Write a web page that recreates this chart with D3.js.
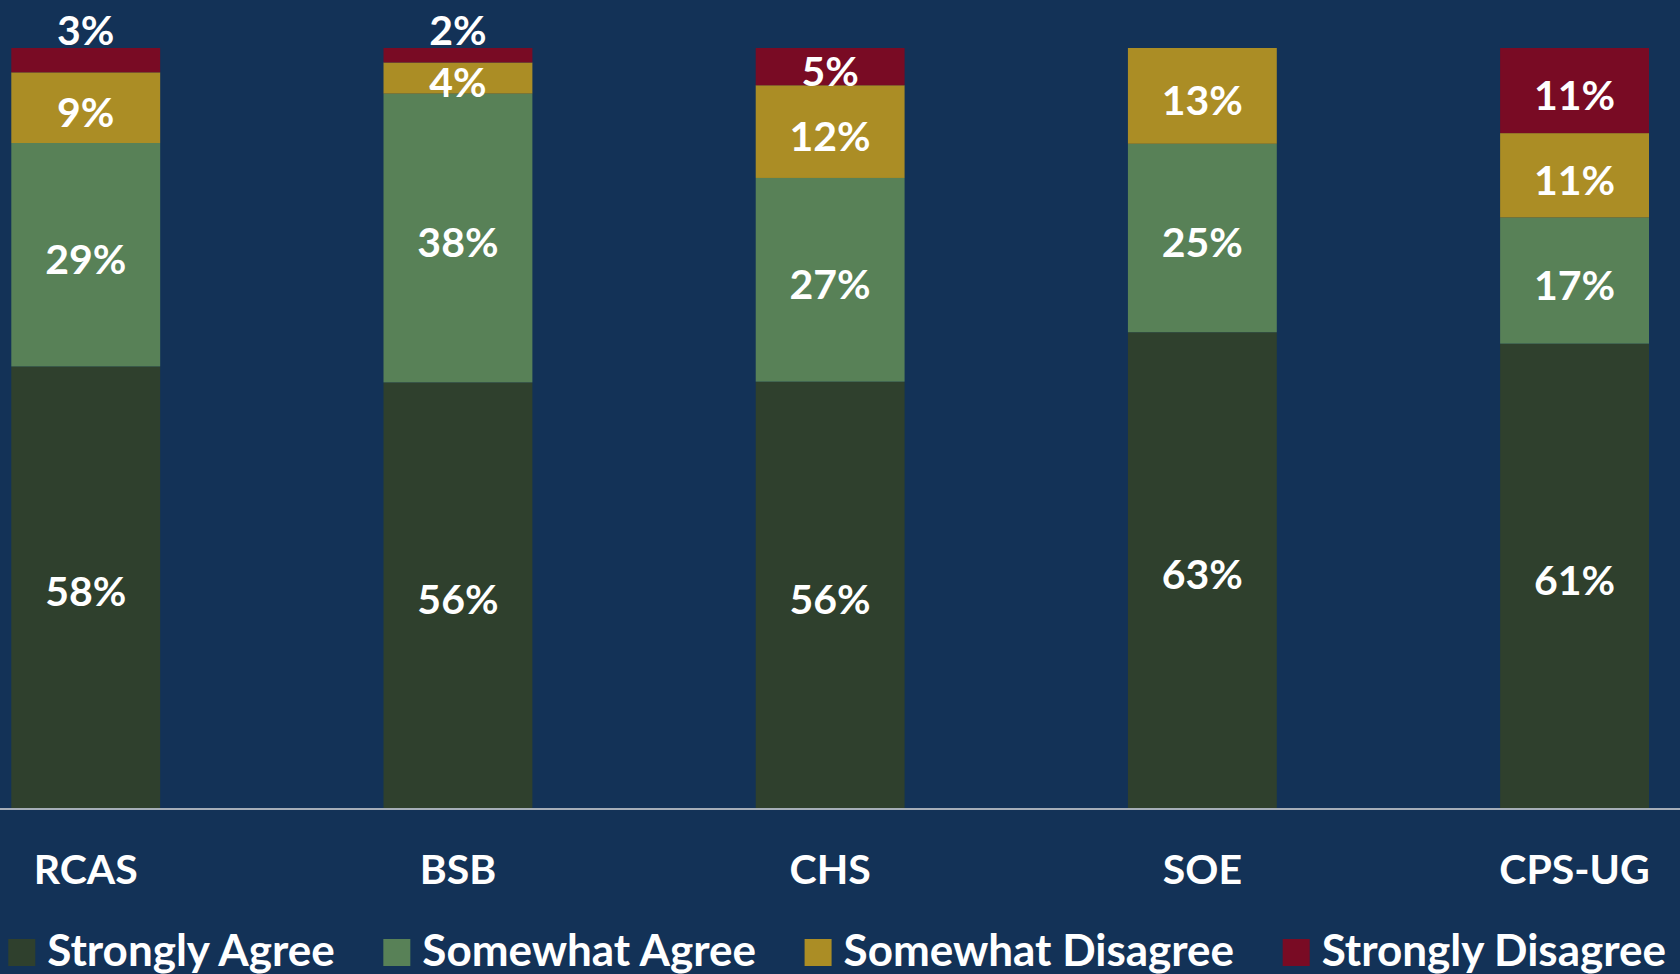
<!DOCTYPE html>
<html>
<head>
<meta charset="utf-8">
<script src="https://cdn.jsdelivr.net/npm/d3@7"></script>
<style>
  html, body { margin: 0; padding: 0; background: #133257; overflow: hidden; }
  svg { display: block; }
  text { font-family: Lato, "Open Sans", sans-serif; font-weight: 700; fill: #ffffff; }
</style>
</head>
<body>
<svg id="chart" width="1680" height="974"></svg>
<script>
// ---- data (percent shares; labels show rounded values) ----
const categories = ["RCAS", "BSB", "CHS", "SOE", "CPS-UG"];
const seriesNames = ["Strongly Agree", "Somewhat Agree", "Somewhat Disagree", "Strongly Disagree"];
const stronglyAgree = [58.1, 56.0, 56.1, 62.6, 61.1];
const somewhatAgree = [29.4, 38.0, 26.8, 24.8, 16.6];
const somewhatDisagree = [9.3, 4.1, 12.2, 12.6, 11.1];
const stronglyDisagree = [3.2, 1.9, 4.9, 0, 11.2];
const seriesColors = ["#2f402d", "#588157", "#ab8d25", "#790b24"];

const W = 1680, H = 974;
const svg = d3.select("#chart");

const rows = categories.map((c, i) => ({
  category: c,
  "Strongly Agree": stronglyAgree[i],
  "Somewhat Agree": somewhatAgree[i],
  "Somewhat Disagree": somewhatDisagree[i],
  "Strongly Disagree": stronglyDisagree[i]
}));

const stack = d3.stack().keys(seriesNames).offset(d3.stackOffsetExpand);
const stacked = stack(rows);

const x = d3.scaleBand().domain(categories).range([11.3, 1649]).paddingInner(0.6).paddingOuter(0);
const y = d3.scaleLinear().domain([0, 1]).range([808, 48]);
const color = d3.scaleOrdinal().domain(seriesNames).range(seriesColors);
const fmt = d3.format(".0f");

// bars
const layers = svg.append("g").selectAll("g")
  .data(stacked).join("g")
  .attr("fill", d => color(d.key));

layers.selectAll("rect")
  .data(d => d.map(p => ({p, key: d.key})))
  .join("rect")
  .attr("x", d => x(d.p.data.category))
  .attr("width", x.bandwidth())
  .attr("y", d => y(d.p[1]))
  .attr("height", d => Math.max(0, y(d.p[0]) - y(d.p[1])));

// value labels
const fs = 41;
const labelG = svg.append("g").attr("font-size", fs).attr("text-anchor", "middle");
stacked.forEach(layer => {
  layer.forEach(p => {
    const v = p.data[layer.key];
    if (!v) return;
    const top = y(p[1]), bot = y(p[0]);
    const h = bot - top;
    const cx = x(p.data.category) + x.bandwidth() / 2;
    let yy;
    if (h < 28) {
      yy = top - 3; // too small: place above the bar
    } else {
      yy = (top + bot) / 2 + fs * 0.47;
    }
    labelG.append("text").attr("x", cx).attr("y", yy).text(fmt(v) + "%");
  });
});

// x axis
const axisG = svg.append("g").attr("transform", "translate(0,808)")
  .call(d3.axisBottom(x).tickSize(0));
axisG.select(".domain").remove();
axisG.selectAll("text")
  .attr("y", 76).attr("dy", 0)
  .attr("font-size", fs)
  .style("font-family", "Lato, 'Open Sans', sans-serif")
  .style("font-weight", 700)
  .attr("fill", "#ffffff");

svg.append("line")
  .attr("x1", 0).attr("x2", W)
  .attr("y1", 809).attr("y2", 809)
  .attr("stroke", "#d9d9d9").attr("stroke-width", 1.5);

// legend
const legend = svg.append("g");
const sq = 27, gapText = 12, lfs = 44;
const items = seriesNames.map(name => {
  const g = legend.append("g");
  g.append("rect").attr("width", sq).attr("height", sq).attr("y", 939).attr("fill", color(name));
  const t = g.append("text").attr("x", sq + gapText).attr("y", 966).attr("font-size", lfs).text(name);
  return {g, w: sq + gapText + t.node().getComputedTextLength()};
});
const left = 8.3, right = 1666;
const total = d3.sum(items, d => d.w);
const spacing = (right - left - total) / (items.length - 1);
let cur = left;
items.forEach(it => {
  it.g.attr("transform", `translate(${cur},0)`);
  cur += it.w + spacing;
});
</script>
</body>
</html>
